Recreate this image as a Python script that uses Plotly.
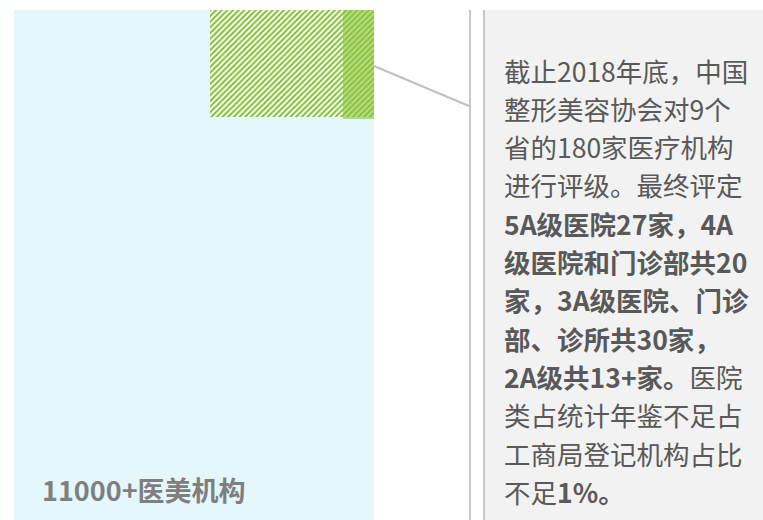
import plotly.graph_objects as go

# data
categories = ['11000+医美机构', '评级机构', '获评机构']
counts = [11000, 180, 90]
text_lines = [
    '截止2018年底，中国',
    '整形美容协会对9个',
    '省的180家医疗机构',
    '进行评级。最终评定',
    '<b>5A级医院27家，4A</b>',
    '<b>级医院和门诊部共20</b>',
    '<b>家，3A级医院、门诊</b>',
    '<b>部、诊所共30家，</b>',
    '<b>2A级共13+家。</b>医院',
    '类占统计年鉴不足占',
    '工商局登记机构占比',
    '不足<b>1%。</b>',
]

# layout (pixel units, y measured from top)
W, H = 763, 520
boxes = {  # x0, x1, y0, y1
    'all': (14, 374, 10, 520),
    'rated': (210, 374, 10, 117),
    'graded': (343, 374, 10, 119),
}
FONT = 'Noto Sans CJK SC'
GREEN = '#82bf30'

fig = go.Figure()

def add_box(key, name, **kw):
    x0, x1, y0, y1 = boxes[key]
    fig.add_trace(go.Bar(x=[(x0 + x1) / 2], y=[y1 - y0], base=[y0], width=[x1 - x0],
                         name=name, showlegend=False, hoverinfo='name', opacity=1, **kw))

add_box('all', categories[0], marker=dict(color='#e6f7fc', line_width=0))
add_box('rated', categories[1],
        marker=dict(color='white', line_width=0,
                    pattern=dict(shape='/', fgcolor=GREEN, bgcolor='white', fgopacity=1,
                                 size=4, solidity=0.5)))
add_box('graded', categories[2], marker=dict(color='rgba(140,196,60,0.6)', line_width=0))

# right text panel
fig.add_shape(type='rect', x0=485, x1=W, y0=10, y1=H, fillcolor='#f2f2f2', line_width=0, layer='below')
fig.add_shape(type='line', x0=484, x1=484, y0=10, y1=H, line=dict(color='#c8c8c8', width=2))
fig.add_shape(type='line', x0=470, x1=470, y0=10, y1=H, line=dict(color='#c8c8c8', width=2))
fig.add_shape(type='line', x0=374, x1=469, y0=66, y1=106, line=dict(color='#bfbfbf', width=2))

for i, line in enumerate(text_lines):
    fig.add_annotation(x=502, y=70 + i * 38.3, text=line, showarrow=False,
                       xanchor='left', yanchor='middle',
                       font=dict(family=FONT, size=26.5, color='#595959'))

fig.add_annotation(x=40, y=489, text='<b>%s</b>' % categories[0], showarrow=False,
                   xanchor='left', yanchor='middle',
                   font=dict(family=FONT, size=27, color='#7f7f7f'))

fig.update_layout(
    width=W, height=H, margin=dict(l=0, r=0, t=0, b=0),
    paper_bgcolor='white', plot_bgcolor='white', barmode='overlay',
    xaxis=dict(range=[0, W], visible=False, fixedrange=True),
    yaxis=dict(range=[H, 0], visible=False, fixedrange=True),
    font=dict(family=FONT),
)

fig.write_html('out.html', config={'displayModeBar': False},
               post_script="document.body.style.margin='0';")
